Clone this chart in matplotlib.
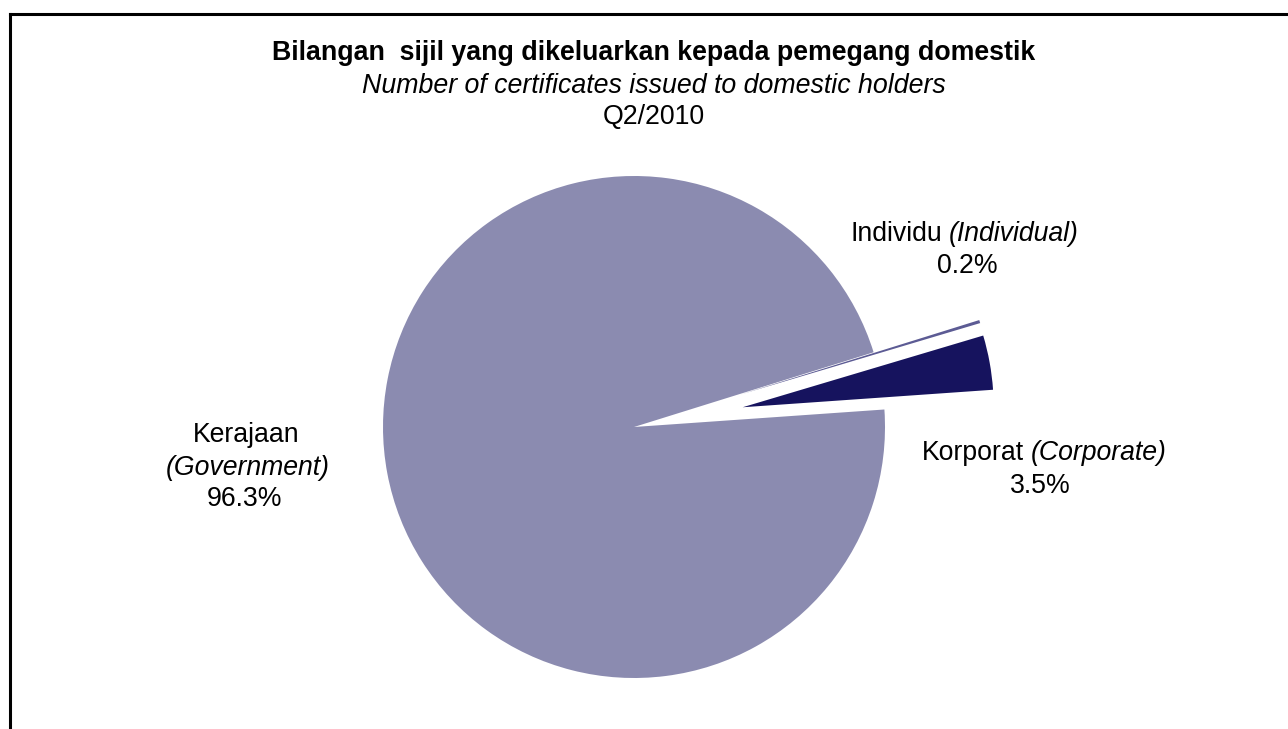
import matplotlib
matplotlib.use('Agg')
import matplotlib.pyplot as plt
from matplotlib.lines import Line2D

# data (Q2/2010)
labels_my = ['Korporat', 'Individu', 'Kerajaan']
labels_en = ['(Corporate)', '(Individual)', '(Government)']
shares = [3.5, 0.2, 96.3]
colours = ['#16135e', '#5c5b94', '#8b8bb0']

plt.rcParams['font.family'] = ['Liberation Sans', 'DejaVu Sans']

W, H = 1288, 729
R = 251  # pie radius in pixels
fig = plt.figure(figsize=(W / 100, H / 100), dpi=100)
ax = fig.add_axes([0, 0, 1, 1])

# explode is in data units here, so scale the fraction by the radius
explode = [0.44 * R, 0.44 * R, 0.0]
ax.pie(shares, colors=colours, explode=explode, startangle=4,
       center=(634, H - 427), radius=R, frame=True,
       wedgeprops={'linewidth': 0})
ax.set_xlim(0, W)
ax.set_ylim(0, H)
ax.axis('off')

def y(px):
    # pixel row (top down) -> data y
    return H - px

# title block
tsize = 19.3
ax.text(654, y(53), 'Bilangan  sijil yang dikeluarkan kepada pemegang domestik',
        ha='center', va='center', fontsize=tsize, fontweight='bold')
ax.text(654, y(86), 'Number of certificates issued to domestic holders',
        ha='center', va='center', fontsize=tsize, style='italic')
ax.text(654, y(117), 'Q2/2010', ha='center', va='center', fontsize=tsize)

lab = 19.2
# Individu
ax.text(942, y(234), labels_my[1], ha='right', va='center', fontsize=lab)
ax.text(949, y(234), labels_en[1], ha='left', va='center', fontsize=lab, style='italic')
ax.text(967, y(266), f'{shares[1]}%', ha='center', va='center', fontsize=lab)
# Korporat
ax.text(1024, y(453), labels_my[0], ha='right', va='center', fontsize=lab)
ax.text(1031, y(453), labels_en[0], ha='left', va='center', fontsize=lab, style='italic')
ax.text(1040, y(486), f'{shares[0]}%', ha='center', va='center', fontsize=lab)
# Kerajaan
ax.text(246, y(435), labels_my[2], ha='center', va='center', fontsize=lab)
ax.text(248, y(468), labels_en[2], ha='center', va='center', fontsize=lab, style='italic')
ax.text(245, y(499), f'{shares[2]}%', ha='center', va='center', fontsize=lab)

# chart frame, only top and left edges are inside the crop
fig.add_artist(Line2D([10 / W, 1], [1 - 14 / H, 1 - 14 / H], color='black', lw=2.2,
                      transform=fig.transFigure))
fig.add_artist(Line2D([10 / W, 10 / W], [0, 1 - 14 / H], color='black', lw=2.2,
                      transform=fig.transFigure))

fig.savefig('out.png', dpi=100)
